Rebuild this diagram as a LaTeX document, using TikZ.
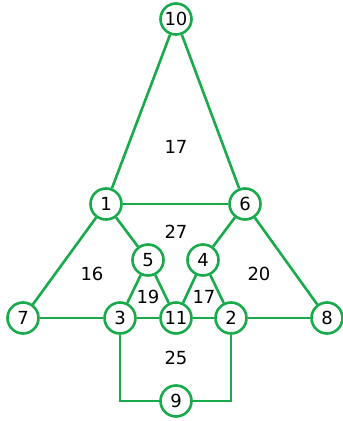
\documentclass[tikz,border=0pt]{standalone}
\usepackage{fontspec}
\setmainfont{DejaVu Sans}
\definecolor{gr}{RGB}{25,170,75}
\begin{document}
\begin{tikzpicture}[x=1pt,y=-1pt,
  vtx/.style={circle,draw=gr,line width=2.6pt,fill=white,minimum size=31pt,inner sep=0pt,font=\fontsize{18}{18}\selectfont},
  lbl/.style={font=\fontsize{18}{18}\selectfont},
  edge/.style={draw=gr,line width=2.6pt}]
\useasboundingbox (0,0) rectangle (343,421);
\coordinate (c3) at (120,401);
\coordinate (c2) at (231,401);
\draw[edge] (c3) -- (c2);
\node[vtx] (n10) at (176,19) {10};
\node[vtx] (n1) at (106,204) {1};
\node[vtx] (n6) at (245,204) {6};
\node[vtx] (n5) at (148,260) {5};
\node[vtx] (n4) at (203,260) {4};
\node[vtx] (n7) at (23,318) {7};
\node[vtx] (n3) at (120,318) {3};
\node[vtx] (n11) at (176,318) {11};
\node[vtx] (n2) at (231,318) {2};
\node[vtx] (n8) at (327,318) {8};
\node[vtx] (n9) at (176,401) {9};
\draw[edge] (n10) -- (n1);
\draw[edge] (n10) -- (n6);
\draw[edge] (n1) -- (n6);
\draw[edge] (n1) -- (n7);
\draw[edge] (n1) -- (n5);
\draw[edge] (n6) -- (n4);
\draw[edge] (n6) -- (n8);
\draw[edge] (n7) -- (n3);
\draw[edge] (n3) -- (n11);
\draw[edge] (n11) -- (n2);
\draw[edge] (n2) -- (n8);
\draw[edge] (n5) -- (n3);
\draw[edge] (n5) -- (n11);
\draw[edge] (n4) -- (n11);
\draw[edge] (n4) -- (n2);
\draw[edge] (n3) -- (c3) -- (n9);
\draw[edge] (n2) -- (c2) -- (n9);
\node[lbl] (l17a) at (176,147) {17};
\node[lbl] (l27) at (176,232) {27};
\node[lbl] (l16) at (92,274) {16};
\node[lbl] (l20) at (259,274) {20};
\node[lbl] (l19) at (148,297) {19};
\node[lbl] (l17b) at (204,297) {17};
\node[lbl] (l25) at (176,358) {25};
\end{tikzpicture}
\end{document}
